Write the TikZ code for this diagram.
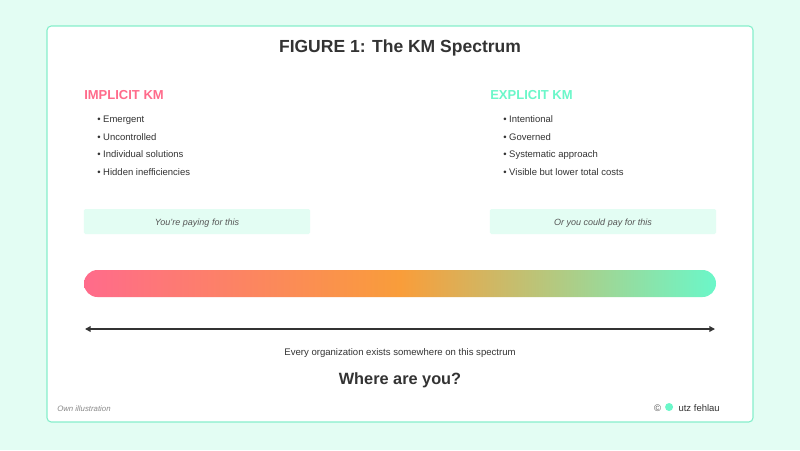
\documentclass[tikz,border=0pt]{standalone}
\usepackage{fontspec}
\setmainfont{Liberation Sans}
\usetikzlibrary{positioning, arrows.meta}

\definecolor{mintbg}{HTML}{E3FDF3}
\definecolor{mintline}{HTML}{86EFCB}
\definecolor{kmpink}{HTML}{FF6B8B}
\definecolor{kmmint}{HTML}{6BF7C9}
\definecolor{kmorange}{HTML}{F99D3A}
\definecolor{inkdark}{HTML}{333333}
\definecolor{inkgray}{HTML}{555555}
\definecolor{inklight}{HTML}{888888}

\newcommand{\kmsize}[1]{\fontsize{#1}{#1}\selectfont}

\tikzset{
    textline/.style={inner sep=0pt, text height=1.6ex, text depth=0.45ex},
    heading/.style={textline, font=\bfseries\kmsize{9.25pt}, anchor=west},
    bulletitem/.style={textline, font=\kmsize{6.75pt}, text=inkdark, anchor=west},
    notebox/.style={fill=mintbg, rounded corners=1pt, minimum width=5.65cm, minimum height=0.625cm,
        inner sep=0pt, text height=1.6ex, text depth=0.45ex, font=\itshape\kmsize{6.4pt}, text=inkgray}
}

\begin{document}
\begin{tikzpicture}[x=0.025cm, y=-0.025cm]

                %Background and card
                \fill[mintbg] (0,0) rectangle (800,450);
                \filldraw[fill=white, draw=mintline, line width=0.8pt, rounded corners=3pt] (47,26) rectangle (753,422);

                %Title
                \node (title) at (400,48) [textline, font=\bfseries\kmsize{12.45pt}, text=inkdark] {FIGURE 1: The KM Spectrum};

                %Two sides
                \node (implicit) at (84,95) [heading, text=kmpink] {IMPLICIT KM};
                \node (explicit) at (490,95) [heading, text=kmmint] {EXPLICIT KM};

                \foreach \y/\descr in {118/Emergent, 136/Uncontrolled, 153/Individual solutions, 171/Hidden inefficiencies}
                \node (imp\y) at (97,\y) [bulletitem] {• \descr};
                \foreach \y/\descr in {118/Intentional, 136/Governed, 153/Systematic approach, 171/Visible but lower total costs}
                \node (exp\y) at (503,\y) [bulletitem] {• \descr};

                %Cost boxes
                \node (paying) at (197,221.5) [notebox] {You're paying for this};
                \node (couldpay) at (603,221.5) [notebox] {Or you could pay for this};

                %Spectrum bar
                \shade[left color=kmpink, right color=kmmint, middle color=kmorange, rounded corners=0.3375cm]
                    (84,270) rectangle (716,297);

                %Spectrum arrow
                \coordinate (spanL) at (85,329);
                \coordinate (spanR) at (715,329);
                \draw[line width=1.4pt, inkdark, {Triangle[width=4pt,length=4pt]}-{Triangle[width=4pt,length=4pt]}] (spanL) -- (spanR);

                \node (every) at (400,351) [textline, font=\kmsize{6.8pt}, text=inkdark] {Every organization exists somewhere on this spectrum};
                \node (where) at (400,380) [textline, font=\bfseries\kmsize{11.6pt}, text=inkdark] {Where are you?};

                %Footer
                \node (source) at (57,407) [textline, anchor=west, font=\itshape\kmsize{5.55pt}, text=inklight] {Own illustration};
                \node (author) at (720,407) [textline, anchor=east, font=\kmsize{6.75pt}, text=inkdark] {utz fehlau};
                \node (logo) [circle, fill=kmmint, inner sep=0pt, minimum size=0.2cm, left=3.5pt of author] {};
                \node (copy) [textline, left=2.5pt of logo, font=\kmsize{6.75pt}, text=inkgray] {©};

\end{tikzpicture}
\end{document}
